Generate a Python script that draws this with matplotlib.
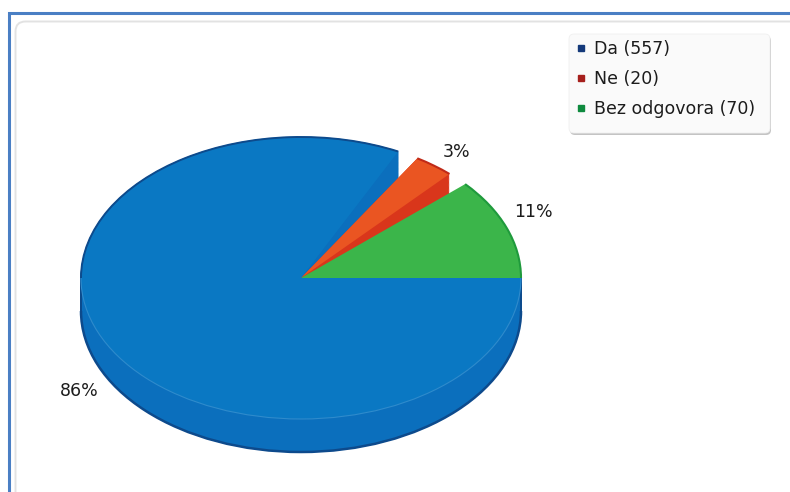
import numpy as np
import matplotlib
matplotlib.use("Agg")
import matplotlib.pyplot as plt
from matplotlib.patches import Wedge, Arc, FancyBboxPatch
from matplotlib.lines import Line2D

W, H = 790, 492
categories = ["Da", "Ne", "Bez odgovora"]
counts = [557, 20, 70]
pct_labels = ["86%", "3%", "11%"]
legend_colors = ["#14397a", "#a61f1c", "#0e8a3e"]
top_colors = ["#0a78c3", "#ea5522", "#3bb54a"]
wall_colors = ["#0b6fbd", "#d9361b", None]
rim_colors = ["#0d4a8c", "#c02a18", "#1f9a3c"]
# the 3D projection of the source compresses and spreads the slices
sweep_factor = [0.958, 0.946, 1.072]
gap_deg = [5.7, 5.8]

plt.rcParams["font.family"] = "DejaVu Sans"
fig = plt.figure(figsize=(W / 100, H / 100), dpi=100, facecolor="white")

# page overlay in pixel coordinates
bg = fig.add_axes([0, 0, 1, 1])
bg.set_xlim(0, W); bg.set_ylim(H, 0); bg.axis("off")
bg.plot([8.5, 8.5, W], [H, 12.5, 12.5], color="#4a7fc4", lw=2.2, solid_joinstyle="miter")
bg.add_patch(FancyBboxPatch((15.5, 21.5), W + 30, H + 30,
                            boxstyle="round,pad=0,rounding_size=10",
                            fc="white", ec="#e2e2e2", lw=1.4))

# pie axes: one data unit is one radius of the ellipse
cx, cy, rx, ry = 301.0, 278.0, 220.0, 141.0
depth = 33.0 / ry
m = 1.4
ax = fig.add_axes([(cx - m * rx) / W, 1 - (cy + m * ry) / H, 2 * m * rx / W, 2 * m * ry / H])
ax.set_xlim(-m, m); ax.set_ylim(-m, m); ax.axis("off"); ax.patch.set_alpha(0)

total = sum(counts)
sweeps = [360 * c / total * f for c, f in zip(counts, sweep_factor)]
g_a = (0.0, sweeps[2])
r_a = (g_a[1] + gap_deg[1], g_a[1] + gap_deg[1] + sweeps[1])
b_a = (r_a[1] + gap_deg[0], 360.0)

# side walls
for d in np.linspace(depth, 0, 40):
    ax.add_patch(Wedge((0, -d), 1, b_a[0], b_a[1], fc=wall_colors[0], ec=wall_colors[0], lw=0.6, zorder=1))
ax.add_patch(Arc((0, -depth), 2, 2, theta1=180, theta2=360, ec=rim_colors[0], lw=1.8, zorder=2))
for sx in (-1, 1):
    ax.plot([sx, sx], [0, -depth], color=rim_colors[0], lw=1.4, zorder=2)
for d in np.linspace(depth, 0, 40):
    ax.add_patch(Wedge((0, -d), 1, r_a[0], r_a[1], fc=wall_colors[1], ec="none", zorder=3))

# top faces
ax.add_patch(Wedge((0, 0), 1, r_a[0], r_a[1], fc=top_colors[1], ec="none", zorder=4))
ax.add_patch(Arc((0, 0), 2, 2, theta1=r_a[0], theta2=r_a[1], ec=rim_colors[1], lw=1.5, zorder=5))
ax.add_patch(Wedge((0, 0), 1, g_a[0], g_a[1], fc=top_colors[2], ec="none", zorder=4))
ax.add_patch(Arc((0, 0), 2, 2, theta1=g_a[0], theta2=g_a[1], ec=rim_colors[2], lw=1.5, zorder=5))
ax.add_patch(Wedge((0, 0), 1, b_a[0], b_a[1], fc=top_colors[0], ec="none", zorder=6))
ax.add_patch(Arc((0, 0), 2, 2, theta1=b_a[0], theta2=180, ec=rim_colors[0], lw=1.4, zorder=7))
ax.add_patch(Arc((0, 0), 2, 2, theta1=180, theta2=360, ec="#2f8bcc", lw=0.8, zorder=7))

# percentage labels
label_px = [(79, 391), (456, 152), (533, 212)]
for t, (x, y) in zip(pct_labels, label_px):
    bg.text(x, y, t, ha="center", va="center", fontsize=12.5, color="#1c1c1c", zorder=9)

# legend box
lx, ly, lw_, lh = 569, 34, 201, 99
bg.add_patch(FancyBboxPatch((lx + 1, ly + 2), lw_, lh, boxstyle="round,pad=0,rounding_size=5",
                            fc="#c4c4c4", ec="none", zorder=8))
bg.add_patch(FancyBboxPatch((lx, ly), lw_, lh, boxstyle="round,pad=0,rounding_size=5",
                            fc="#fafafa", ec="#f0f0f0", lw=0.6, zorder=8))
handles = [Line2D([], [], ls="none", marker="s", ms=4.4, color=c) for c in legend_colors]
labels = [f"{n} ({v})" for n, v in zip(categories, counts)]
leg = fig.legend(handles, labels, loc="upper left", bbox_to_anchor=(563.7 / W, 1 - 32.5 / H),
                 bbox_transform=fig.transFigure, frameon=False, fontsize=12.5,
                 labelspacing=0.686, handletextpad=0.2, handlelength=1.1,
                 borderpad=0.45, borderaxespad=0, labelcolor="#1c1c1c")
leg.set_zorder(10)

fig.savefig("out.png", dpi=100)
